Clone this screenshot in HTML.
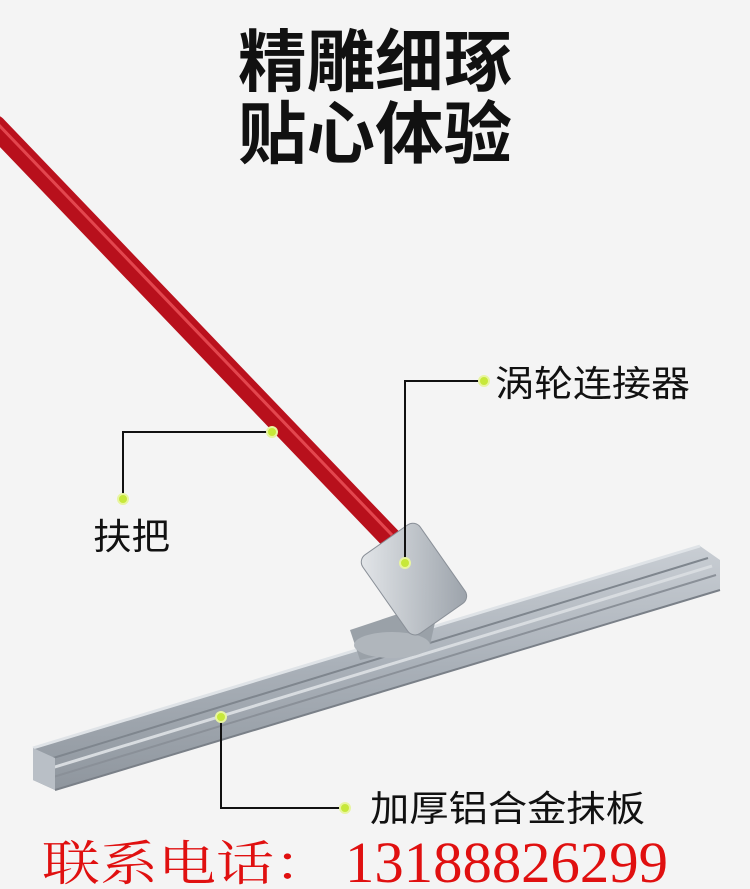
<!DOCTYPE html>
<html><head><meta charset="utf-8"><style>
html,body{margin:0;padding:0;background:#f4f4f4;}
svg{display:block}
</style></head><body>
<svg width="750" height="889" viewBox="0 0 750 889" xmlns="http://www.w3.org/2000/svg">
<defs>
<linearGradient id="red" x1="0" y1="0" x2="1" y2="-1">
<stop offset="0" stop-color="#b8101c"/><stop offset="0.5" stop-color="#f0303a"/><stop offset="1" stop-color="#c8141e"/>
</linearGradient>
<linearGradient id="al" x1="0" y1="0" x2="0" y2="1">
<stop offset="0" stop-color="#c9ced4"/><stop offset="0.5" stop-color="#a9b0b8"/><stop offset="1" stop-color="#8f969e"/>
</linearGradient>
<linearGradient id="box" x1="0" y1="0" x2="1" y2="1">
<stop offset="0" stop-color="#e4e7ea"/><stop offset="1" stop-color="#9aa1a9"/>
</linearGradient>
</defs>
<rect width="750" height="889" fill="#f4f4f4"/>
<text x="375" y="86" text-anchor="middle" font-family="Liberation Sans, Noto Sans CJK SC, sans-serif" font-weight="bold" font-size="68" fill="#111" textLength="274" lengthAdjust="spacingAndGlyphs">精雕细琢</text>
<text x="375" y="158" text-anchor="middle" font-family="Liberation Sans, Noto Sans CJK SC, sans-serif" font-weight="bold" font-size="68" fill="#111" textLength="274" lengthAdjust="spacingAndGlyphs">贴心体验</text>
<!-- handle -->
<line x1="-5" y1="126" x2="392" y2="540" stroke="url(#red)" stroke-width="22" stroke-linecap="round"/>
<line x1="-5" y1="121" x2="392" y2="535" stroke="#ff6a70" stroke-width="3" opacity="0.6"/>
<!-- plate -->
<polygon points="33,748 700,546 720,560 720,590 55,790 33,780" fill="url(#al)"/>
<polyline points="33,748 700,546" stroke="#dfe3e7" stroke-width="3" fill="none"/>
<line x1="40" y1="762" x2="708" y2="558" stroke="#7f868e" stroke-width="2"/>
<line x1="45" y1="770" x2="712" y2="566" stroke="#d8dce0" stroke-width="3"/>
<line x1="50" y1="778" x2="716" y2="575" stroke="#8a9098" stroke-width="2"/>
<line x1="55" y1="790" x2="720" y2="590" stroke="#7a8088" stroke-width="2"/>
<polygon points="33,748 55,758 55,790 33,780" fill="#b9bfc6"/>
<!-- connector -->
<polygon points="350,630 440,600 430,645 360,660" fill="#9aa1a8"/>
<ellipse cx="392" cy="645" rx="38" ry="13" fill="#b0b6bc"/>
<g transform="rotate(-35 412 578)">
<rect x="378" y="532" width="70" height="96" rx="9" fill="url(#box)" stroke="#8a9098"/>
</g>
<!-- callouts -->
<g stroke="#111" stroke-width="2" fill="none">
<polyline points="484,381 405,381 405,562"/>
<polyline points="272,432 123,432 123,498"/>
<polyline points="221,717 221,808 345,808"/>
</g>
<g fill="#c7e83a" stroke="#e8f5a0" stroke-width="2">
<circle cx="484" cy="381" r="5"/><circle cx="405" cy="563" r="5"/>
<circle cx="272" cy="432" r="5"/><circle cx="123" cy="499" r="5"/>
<circle cx="221" cy="717" r="5"/><circle cx="345" cy="808" r="5"/>
</g>
<g font-family="Liberation Sans, Noto Sans CJK SC, sans-serif" font-size="36" fill="#111">
<text x="495" y="396" textLength="195" lengthAdjust="spacingAndGlyphs">涡轮连接器</text>
<text x="93" y="549" textLength="77" lengthAdjust="spacingAndGlyphs">扶把</text>
<text x="370" y="821" textLength="275" lengthAdjust="spacingAndGlyphs">加厚铝合金抹板</text>
</g>
<g font-family="Liberation Serif, Noto Serif CJK SC, serif" fill="#e01010">
<text x="42" y="880" font-size="48" textLength="290" lengthAdjust="spacingAndGlyphs">联系电话：</text>
<text x="345" y="882" font-size="58" textLength="323" lengthAdjust="spacingAndGlyphs">13188826299</text>
</g>
</svg>
</body></html>
